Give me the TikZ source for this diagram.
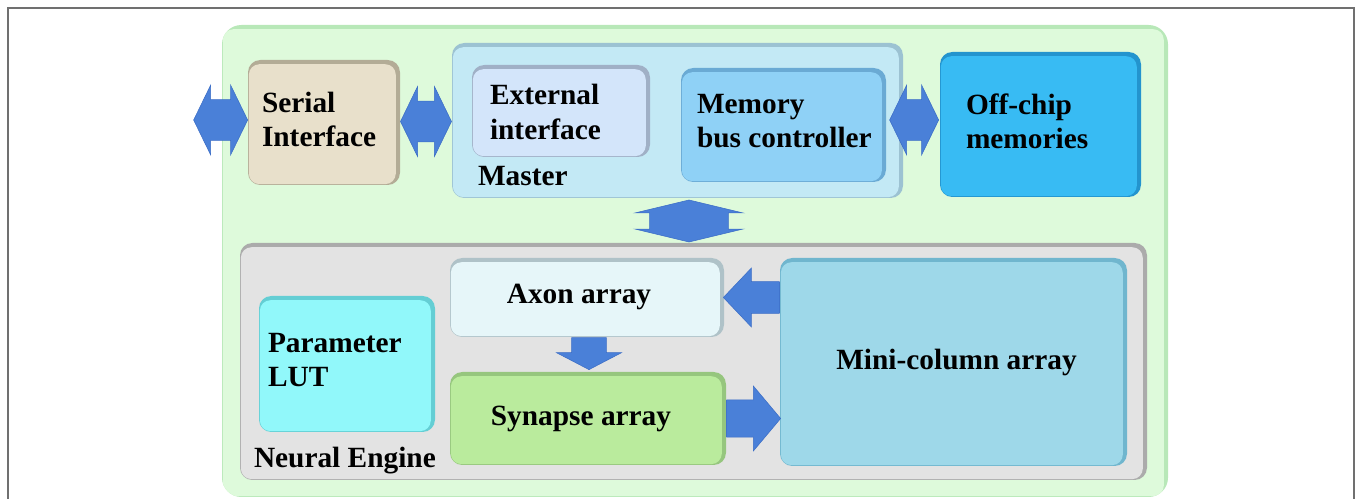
\documentclass[tikz,border=0pt]{standalone}
\usepackage{fontspec}
\setmainfont{Liberation Serif}
\usetikzlibrary{positioning, calc, fit, shapes.arrows}
\definecolor{framegray}{HTML}{707070}
\definecolor{chipgreen}{HTML}{DEFADB}
\definecolor{chipgreenedge}{HTML}{B8E8B8}
\definecolor{serialtan}{HTML}{E8E0CB}
\definecolor{serialtanedge}{HTML}{B3AC96}
\definecolor{masterblue}{HTML}{C3E9F5}
\definecolor{masterblueedge}{HTML}{9CC2D2}
\definecolor{extblue}{HTML}{D3E5FA}
\definecolor{extblueedge}{HTML}{A0B0C6}
\definecolor{membusblue}{HTML}{8FD1F6}
\definecolor{membusedge}{HTML}{6AAAD4}
\definecolor{offchipblue}{HTML}{38BBF3}
\definecolor{offchipedge}{HTML}{2394CE}
\definecolor{enginegray}{HTML}{E3E3E3}
\definecolor{enginegrayedge}{HTML}{ABABAB}
\definecolor{axonwhite}{HTML}{E6F6F9}
\definecolor{axonedge}{HTML}{AFC2C8}
\definecolor{lutcyan}{HTML}{91F8FA}
\definecolor{lutedge}{HTML}{64CED4}
\definecolor{synapsegreen}{HTML}{BAEB9D}
\definecolor{synapseedge}{HTML}{96C67E}
\definecolor{minicolblue}{HTML}{9ED8E9}
\definecolor{minicoledge}{HTML}{70B6CE}
\definecolor{arrowblue}{HTML}{4A80D8}
\definecolor{arrowlight}{HTML}{80B2F2}
\definecolor{arrowdark}{HTML}{3B6DC6}

\tikzset{
  blk/.style 2 args={fill=#2, rounded corners=7pt, inner sep=0pt,
    path picture={\fill[#1, rounded corners=6pt]
      ([shift={(0.5pt,0.5pt)}]path picture bounding box.south west) rectangle
      ([shift={(-2.4pt,-2.4pt)}]path picture bounding box.north east);}},
  lbl/.style={font=\bfseries\fontsize{16.7}{19.5}\selectfont, align=left, inner sep=0pt},
  dblarrow/.style={double arrow, top color=arrowblue, middle color=arrowlight,
    bottom color=arrowblue, draw=arrowdark, line width=0.3pt, inner xsep=0pt},
  onearrow/.style={single arrow, top color=arrowblue, middle color=arrowlight,
    bottom color=arrowblue, draw=arrowdark, line width=0.3pt, inner xsep=0pt, anchor=tail}
}

\begin{document}
\begin{tikzpicture}[x=0.2mm, y=-0.2mm]
  \useasboundingbox (0,0) rectangle (1358,499);

  % Page frame
  \draw[framegray, line width=1.1pt] (8,499) -- (8,8) -- (1354,8) -- (1354,499);

  % Chip outline
  \node[blk={chipgreen}{chipgreenedge}, rounded corners=11pt, fit={(222,25) (1168,497)}] (chip) {};

  % Upper row: serial, master, off-chip
  \node[blk={serialtan}{serialtanedge}, fit={(248,60) (400,185)}] (serial) {};
  \node[blk={masterblue}{masterblueedge}, fit={(452,43) (903,198)}] (master) {};
  \node[blk={extblue}{extblueedge}, fit={(472,65) (650,157)}] (ext) {};
  \node[blk={membusblue}{membusedge}, fit={(681,68) (886,182)}] (membus) {};
  \node[blk={offchipblue}{offchipedge}, fit={(940,52) (1141,197)}] (offchip) {};

  \node[lbl, anchor=west] (serialtxt) at ($(serial.west)+(14,-3)$) {Serial\\Interface};
  \node[lbl, anchor=west] (exttxt) at ($(ext.west)+(18,1)$) {External\\interface};
  \node[lbl, anchor=west] (mastertxt) at ($(master.south west)+(26,-22)$) {Master};
  \node[lbl, anchor=west] (membustxt) at ($(membus.west)+(16,-4)$) {Memory\\bus controller};
  \node[lbl, anchor=west] (offchiptxt) at ($(offchip.west)+(26,-3.5)$) {Off-chip\\memories};

  % Lower row: neural engine
  \node[blk={enginegray}{enginegrayedge}, fit={(240,243) (1147,480)}] (engine) {};
  \node[blk={axonwhite}{axonedge}, fit={(450,258) (724,337)}] (axon) {};
  \node[blk={lutcyan}{lutedge}, fit={(259,296) (435,432)}] (lut) {};
  \node[blk={synapsegreen}{synapseedge}, fit={(450,372) (726,465)}] (synapse) {};
  \node[blk={minicolblue}{minicoledge}, fit={(780,258) (1127,466)}] (mini) {};

  \node[lbl] (axontxt) at ($(axon.center)+(-8,-1)$) {Axon array};
  \node[lbl, anchor=west] (luttxt) at ($(lut.west)+(9,-4)$) {Parameter\\LUT};
  \node[lbl] (synapsetxt) at ($(synapse.center)+(-7,0)$) {Synapse array};
  \node[lbl] (minitxt) at ($(mini.center)+(3,0)$) {Mini-column array};
  \node[lbl, anchor=west] (enginetxt) at ($(engine.south west)+(14,-20)$) {Neural Engine};

  % Block arrows
  \node[dblarrow, minimum height=10.8mm, minimum width=14mm, inner ysep=3.4mm,
    double arrow tip angle=128] (serialio) at ($(serial.west)+(-27,-2.5)$) {};
  \node[dblarrow, minimum height=10.2mm, minimum width=14mm, inner ysep=3.4mm,
    double arrow tip angle=128] (serialmaster) at ($(serial.east)!0.5!(master.west)$) {};
  \node[dblarrow, minimum height=9.8mm, minimum width=14mm, inner ysep=3.4mm,
    double arrow tip angle=128] (memlink) at ($(offchip.west)+(-25.5,-4.5)$) {};
  \node[dblarrow, rotate=90, minimum height=8.4mm, minimum width=21.6mm, inner ysep=6.7mm,
    double arrow tip angle=153] (masterengine) at (689,221) {};
  \node[onearrow, rotate=-90, minimum height=6.4mm, minimum width=13mm, inner ysep=2.8mm,
    single arrow tip angle=125] (axonsyn) at ($(axon.south)+(2,0)$) {};
  \node[onearrow, rotate=180, minimum height=11.2mm, minimum width=11.8mm, inner ysep=2.9mm,
    single arrow tip angle=93] (miniaxon) at (mini.west |- axon.east) {};
  \node[onearrow, minimum height=10.8mm, minimum width=13mm, inner ysep=3.3mm,
    single arrow tip angle=100] (synmini) at (synapse.east) {};
\end{tikzpicture}
\end{document}
